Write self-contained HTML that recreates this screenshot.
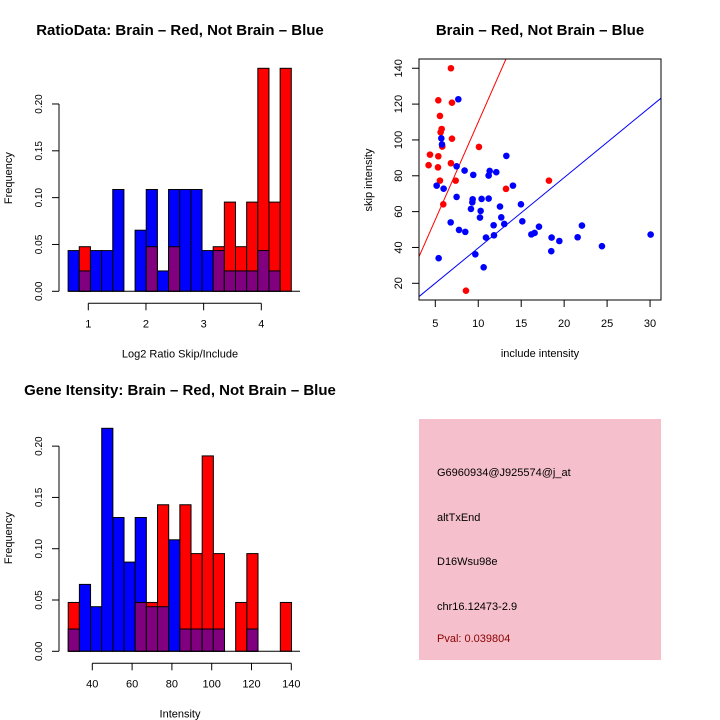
<!DOCTYPE html>
<html><head><meta charset="utf-8"><style>
html,body{margin:0;padding:0;background:#fff;}
svg{display:block;font-family:"Liberation Sans",sans-serif;}
</style></head><body>
<svg id="c" width="720" height="720" viewBox="0 0 720 720"></svg>
<script>
// ---- Data: ratio histogram ----
const ratioBinStart = 0.65;
const ratioBinWidth = 0.1935;
const ratioBlue = [2/46,1/46,2/46,2/46,5/46,0,3/46,5/46,1/46,5/46,5/46,5/46,2/46,2/46,1/46,1/46,1/46,2/46,1/46,0];
const ratioRed  = [0,1/21,0,0,0,0,0,1/21,0,1/21,0,0,0,1/21,2/21,1/21,2/21,5/21,2/21,5/21];
const ratioXTicks = [1,2,3,4];
const histYTicks = ["0.00","0.05","0.10","0.15","0.20"];
// ---- Data: intensity histogram ----
const intBinStart = 27.9;
const intBinWidth = 5.61;
const intBlue = [1/46,3/46,2/46,10/46,6/46,4/46,6/46,2/46,2/46,5/46,1/46,1/46,1/46,1/46,0,0,1/46,0,0,0];
const intRed  = [1/21,0,0,0,0,0,1/21,1/21,3/21,0,3/21,2/21,4/21,2/21,0,1/21,2/21,0,0,1/21];
const intXTicks = [40,60,80,100,120,140];
// ---- Data: scatter ----
const redInclude = [6.82,5.35,6.94,5.54,5.74,5.62,6.94,5.81,10.08,4.38,5.35,4.22,5.31,6.82,5.54,7.37,13.23,18.23,5.93,8.57];
const redSkip    = [140,122.1,120.8,113.4,106.1,104.3,100.7,96.3,96.1,91.8,90.9,85.9,84.7,87.0,77.3,77.3,72.7,77.3,64.1,15.9];
const blueInclude = [7.68,5.70,5.78,7.48,8.41,9.42,11.33,11.21,12.10,13.27,5.16,5.97,14.04,7.48,9.35,10.39,11.21,9.31,9.15,12.53,10.28,10.20,12.68,14.97,13.03,11.79,15.13,6.79,7.76,8.49,17.07,11.83,10.90,16.18,16.56,18.54,21.57,19.44,18.50,24.40,30.07,9.66,5.39,10.63,22.07];
const blueSkip    = [122.7,100.9,97.5,85.3,82.9,80.5,82.7,80.1,82.0,91.1,74.5,72.8,74.5,68.2,66.9,67.1,67.3,65.2,61.5,62.8,60.4,56.7,56.8,64.1,53.1,52.4,54.6,54.0,49.8,48.7,51.6,46.8,45.5,47.3,48.1,45.5,45.7,43.6,37.9,40.7,47.2,36.2,34.0,28.9,52.2];
const redLine = [1.0, 10.9];   // intercept, slope
const blueLine = [0.4, 3.93];
const scXTicks = [5,10,15,20,25,30];
const scYTicks = [20,40,60,80,100,120,140];

const NS="http://www.w3.org/2000/svg";
const svg=document.getElementById('c');
function mk(tag,attrs,parent){const e=document.createElementNS(NS,tag);for(const k in attrs)e.setAttribute(k,attrs[k]);(parent||svg).appendChild(e);return e;}
function txt(s,x,y,o,parent){const e=mk('text',Object.assign({x:x,y:y,'font-size':11,'text-anchor':'middle',fill:'#000'},o||{}),parent);e.textContent=s;return e;}

function histogram(name,top,base,pxPerUnit,binStart,binW,xToPx,blue,red,xTicks,title,xlabel){
  const g=mk('g',{});
  
  
  const yPx=v=>base-v*pxPerUnit;
  for(let i=0;i<blue.length;i++){
    const x0=xToPx(binStart+i*binW), x1=xToPx(binStart+(i+1)*binW);
    const b=blue[i], r=red[i];
    const mx=Math.max(b,r), mn=Math.min(b,r);
    if(mx<=0) continue;
    const big=mk('rect',{x:x0,y:yPx(mx),width:x1-x0,height:mx*pxPerUnit,fill:b>=r?'#0000ff':'#ff0000',stroke:'#000','stroke-width':1},g);
    
    
    if(mn>0){
      const p=mk('rect',{x:x0,y:yPx(mn),width:x1-x0,height:mn*pxPerUnit,fill:'#800080',stroke:'#000','stroke-width':1},g);
      
      
    }
  }
  mk('line',{x1:xToPx(binStart),x2:300,y1:base,y2:base,stroke:'#000'},g);
  const ya=mk('g',{},g);
  
  
  mk('line',{x1:59,x2:59,y1:yPx(0),y2:yPx(0.2),stroke:'#000'},ya);
  histYTicks.forEach(t=>{const v=parseFloat(t),y=yPx(v);
    mk('line',{x1:52,x2:59,y1:y,y2:y,stroke:'#000'},ya);
    txt(t,42,y,{transform:`rotate(-90 42 ${y})`,'font-size':10},ya);});
  const xa=mk('g',{},g);
  
  
  const ay=base+12;
  mk('line',{x1:xToPx(xTicks[0]),x2:xToPx(xTicks[xTicks.length-1]),y1:ay,y2:ay,stroke:'#000'},xa);
  xTicks.forEach(t=>{const x=xToPx(t);mk('line',{x1:x,x2:x,y1:ay,y2:ay+7,stroke:'#000'},xa);txt(String(t),x,ay+24,{},xa);});
  const tt=txt(title,180,top,{'font-size':15,'font-weight':'bold'},g);
  
  
  const xl=txt(xlabel,180,base+66,{},g);
  
  
  const yl=txt('Frequency',12,(base+top)/2+15,{transform:`rotate(-90 12 ${(base+top)/2+15})`},g);
  
  
}

histogram('ratio-histogram',35,291.3,936.6,ratioBinStart,ratioBinWidth,v=>88.3+(v-1)*57.67,ratioBlue,ratioRed,ratioXTicks,'RatioData: Brain \u2013 Red, Not Brain \u2013 Blue','Log2 Ratio Skip/Include');
histogram('intensity-histogram',395,651.3,1025.8,intBinStart,intBinWidth,v=>92.3+(v-40)*1.99,intBlue,intRed,intXTicks,'Gene Itensity: Brain \u2013 Red, Not Brain \u2013 Blue','Intensity');

// ---- Scatter ----
const sx=v=>435.3+(v-5)*8.59, sy=v=>283.3-(v-20)*1.792;
const sg=mk('g',{});


const clp=mk('clipPath',{id:'clp'},sg);
mk('rect',{x:419,y:59,width:242,height:241},clp);
function regLine(p,color,nm){const x0=419,x1=661;const xa=(x0-435.3)/8.59+5,xb=(x1-435.3)/8.59+5;
  const l=mk('line',{x1:x0,y1:sy(p[0]+p[1]*xa),x2:x1,y2:sy(p[0]+p[1]*xb),stroke:color,'stroke-width':1,'clip-path':'url(#clp)'},sg);
  
  }
regLine(redLine,'#ff0000','brain-fit-line');
regLine(blueLine,'#0000ff','not-brain-fit-line');
redInclude.forEach((x,i)=>{const c=mk('circle',{cx:sx(x),cy:sy(redSkip[i]),r:3.3,fill:'#ff0000'},sg);
  
  });
blueInclude.forEach((x,i)=>{const c=mk('circle',{cx:sx(x),cy:sy(blueSkip[i]),r:3.3,fill:'#0000ff'},sg);
  
  });
mk('rect',{x:419,y:59,width:242,height:241,fill:'none',stroke:'#000'},sg);
scXTicks.forEach(t=>{const x=sx(t);mk('line',{x1:x,x2:x,y1:300,y2:307,stroke:'#000'},sg);txt(String(t),x,327,{},sg);});
scYTicks.forEach(t=>{const y=sy(t);mk('line',{x1:412,x2:419,y1:y,y2:y,stroke:'#000'},sg);txt(String(t),402,y,{transform:`rotate(-90 402 ${y})`},sg);});
const st=txt('Brain \u2013 Red, Not Brain \u2013 Blue',540,35,{'font-size':15,'font-weight':'bold'},sg);


const sxl=txt('include intensity',540,357,{},sg);


const syl=txt('skip intensity',372,180,{transform:'rotate(-90 372 180)'},sg);



// ---- Info box ----
const ig=mk('g',{});


mk('rect',{x:419,y:419,width:242,height:241,fill:'#f5bfcc'},ig);
const lines=[['G6960934@J925574@j_at',476,'#000','probe-id'],['altTxEnd',521,'#000','event-type'],['D16Wsu98e',565,'#000','gene-name'],['chr16.12473-2.9',610,'#000','location'],['Pval: 0.039804',642,'#8b0000','p-value']];
lines.forEach(l=>{const t=txt(l[0],437,l[1],{'text-anchor':'start',fill:l[2]},ig);
  
  });
</script>
</body></html>
